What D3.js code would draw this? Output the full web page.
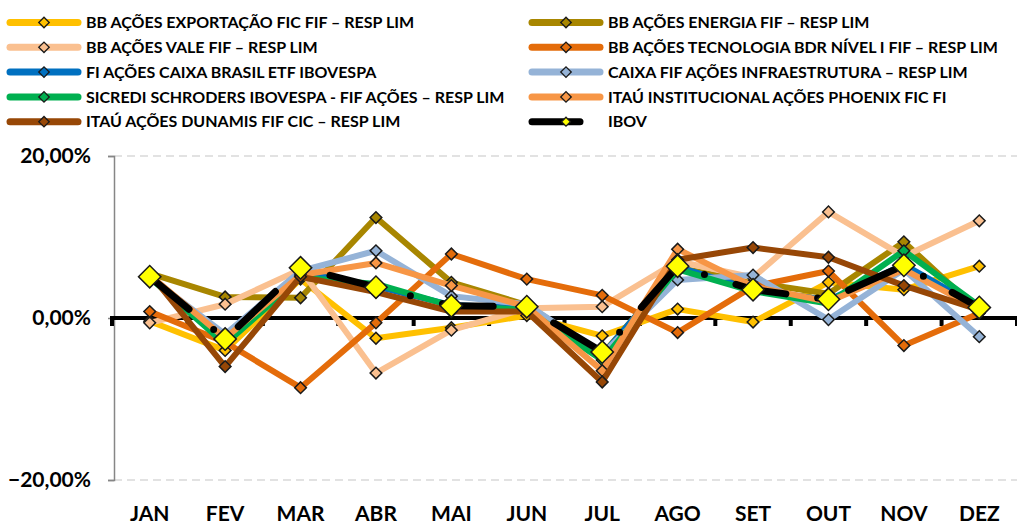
<!DOCTYPE html>
<html>
<head>
<meta charset="utf-8">
<script src="https://cdn.jsdelivr.net/npm/d3@7"></script>
<style>
  body { margin: 0; background: #fff; }
  text { font-family: Lato, "Open Sans", sans-serif; font-weight: bold; }
</style>
</head>
<body>
<svg id="chart"></svg>
<script>
// Months and monthly returns (%) per fund
const months = ["JAN", "FEV", "MAR", "ABR", "MAI", "JUN", "JUL", "AGO", "SET", "OUT", "NOV", "DEZ"];

const exportacao = [-0.4, -4.0, 4.8, -2.5, -1.2, 0.3, -2.2, 1.1, -0.5, 4.4, 3.5, 6.4];
const energia = [5.5, 2.6, 2.5, 12.4, 4.4, 1.6, -4.5, 6.2, 4.4, 3.0, 9.4, 0.8];
const vale = [-0.6, 1.7, 6.0, -6.8, -1.5, 1.2, 1.4, 7.0, 5.0, 13.1, 7.6, 12.0];
const tecnologia = [0.8, -3.0, -8.6, -0.6, 7.9, 4.8, 2.8, -1.8, 3.9, 5.8, -3.4, 0.6];
const caixaBrasil = [5.0, -2.6, 5.6, 3.9, 1.6, 1.2, -4.6, 6.3, 3.5, 2.2, 6.6, 1.3];
const caixaInfra = [5.0, -2.0, 5.8, 8.3, 2.7, 1.7, -4.5, 4.7, 5.3, -0.2, 6.0, -2.3];
const sicredi = [5.0, -3.2, 5.0, 4.2, 1.5, 1.0, -5.2, 6.0, 3.3, 1.8, 8.3, 1.5];
const phoenix = [5.3, -2.5, 5.3, 6.8, 4.0, 1.4, -6.5, 8.5, 3.9, 2.0, 6.0, 1.0];
const dunamis = [5.5, -6.0, 5.1, 3.2, 0.8, 0.8, -7.9, 7.2, 8.7, 7.5, 4.0, 1.0];
const ibov = [5.1, -2.6, 6.2, 3.8, 1.5, 1.4, -4.2, 6.4, 3.5, 2.3, 6.5, 1.3];

const yTicks = [-20, 0, 20];

// Series in legend order (row by row, two columns)
const series = [
  { name: "BB AÇÕES EXPORTAÇÃO FIC FIF – RESP LIM", color: "#FFC000", values: exportacao },
  { name: "BB AÇÕES ENERGIA FIF – RESP LIM", color: "#A88600", values: energia },
  { name: "BB AÇÕES VALE FIF – RESP LIM", color: "#FAC090", values: vale },
  { name: "BB AÇÕES TECNOLOGIA BDR NÍVEL I FIF – RESP LIM", color: "#E46C0A", values: tecnologia },
  { name: "FI AÇÕES CAIXA BRASIL ETF IBOVESPA", color: "#0070C0", values: caixaBrasil },
  { name: "CAIXA FIF AÇÕES INFRAESTRUTURA – RESP LIM", color: "#95B3D7", values: caixaInfra },
  { name: "SICREDI SCHRODERS IBOVESPA - FIF AÇÕES – RESP LIM", color: "#00B050", values: sicredi },
  { name: "ITAÚ INSTITUCIONAL AÇÕES PHOENIX FIC FI", color: "#F79646", values: phoenix },
  { name: "ITAÚ AÇÕES DUNAMIS FIF CIC – RESP LIM", color: "#974706", values: dunamis },
  { name: "IBOV", color: "#000000", marker: "#FFFF00", values: ibov, dashed: true }
];

const width = 1017;
const height = 524;

const svg = d3.select("#chart")
  .attr("width", width)
  .attr("height", height);

svg.append("rect")
  .attr("width", width)
  .attr("height", height)
  .attr("fill", "#ffffff");

// Scales
const x = d3.scaleBand()
  .domain(months)
  .range([112, 1017]);

const y = d3.scaleLinear()
  .domain([-20, 20])
  .range([480, 156]);

const diamond = (size) => d3.symbol().type(d3.symbolSquare).size(size)();

// Grid lines (dashed, except zero which is the category axis)
svg.append("g")
  .selectAll("line")
  .data(yTicks.filter(d => d !== 0))
  .enter()
  .append("line")
  .attr("x1", 114)
  .attr("x2", width)
  .attr("y1", d => y(d))
  .attr("y2", d => y(d))
  .attr("stroke", "#D9D9D9")
  .attr("stroke-width", 1.5)
  .attr("stroke-dasharray", "8 5");

// Value axis
const yAxis = svg.append("g")
  .attr("transform", "translate(114,0)")
  .call(d3.axisLeft(y)
    .tickValues(yTicks)
    .tickSize(6)
    .tickPadding(17)
    .tickFormat(d => d3.format(".2f")(d).replace(".", ",") + "%"));

yAxis.select(".domain").attr("stroke", "#868686").attr("stroke-width", 1.5);
yAxis.selectAll(".tick line").attr("stroke", "#868686").attr("stroke-width", 1.5);
yAxis.selectAll(".tick text")
  .attr("fill", "#000")
  .style("font-size", "21px");

// Category axis drawn on the zero line, ticks between categories
const boundaries = months.map(m => x(m)).concat([x.range()[1]]);
const zeroAxis = svg.append("g");

zeroAxis.selectAll("line.tick")
  .data(boundaries)
  .enter()
  .append("line")
  .attr("class", "tick")
  .attr("x1", d => d)
  .attr("x2", d => d)
  .attr("y1", y(0))
  .attr("y2", y(0) + 8)
  .attr("stroke", "#000")
  .attr("stroke-width", 4);

zeroAxis.append("line")
  .attr("x1", 110)
  .attr("x2", width)
  .attr("y1", y(0))
  .attr("y2", y(0))
  .attr("stroke", "#000")
  .attr("stroke-width", 4);

// Month labels at the bottom
const xAxis = svg.append("g")
  .attr("transform", "translate(0,500)")
  .call(d3.axisBottom(x).tickSize(0).tickPadding(6));

xAxis.select(".domain").remove();
xAxis.selectAll(".tick text")
  .attr("fill", "#000")
  .style("font-size", "21px");

// Lines and markers
const line = d3.line()
  .x((d, i) => x(months[i]) + x.bandwidth() / 2)
  .y(d => y(d));

series.forEach(s => {
  const g = svg.append("g");

  g.append("path")
    .datum(s.values)
    .attr("d", line)
    .attr("fill", "none")
    .attr("stroke", s.color)
    .attr("stroke-width", s.dashed ? 7 : 6)
    .attr("stroke-linejoin", "round")
    .attr("stroke-linecap", "round")
    .attr("stroke-dasharray", s.dashed ? "51 32 0 33" : null);

  g.selectAll("path.marker")
    .data(s.values)
    .enter()
    .append("path")
    .attr("class", "marker")
    .attr("d", diamond(s.dashed ? 250 : 68))
    .attr("transform", (d, i) =>
      `translate(${x(months[i]) + x.bandwidth() / 2},${y(d)}) rotate(45)`)
    .attr("fill", s.marker || s.color)
    .attr("stroke", "#1a1a1a")
    .attr("stroke-width", 1.5);
});

// Legend: two columns, five rows
const legend = svg.append("g");

series.forEach((s, i) => {
  const col = i % 2;
  const row = Math.floor(i / 2);
  const lx = col === 0 ? 8 : 530;
  const ly = 22.5 + row * 24.8;
  const item = legend.append("g").attr("transform", `translate(${lx},${ly})`);

  item.append("line")
    .attr("x1", 2)
    .attr("x2", 70)
    .attr("stroke", s.color)
    .attr("stroke-width", 7)
    .attr("stroke-linecap", "round")
    .attr("stroke-dasharray", s.dashed ? "48 40" : null);

  item.append("path")
    .attr("d", diamond(s.dashed ? 40 : 55))
    .attr("transform", "translate(36,0) rotate(45)")
    .attr("fill", s.marker || s.color)
    .attr("stroke", "#1a1a1a")
    .attr("stroke-width", 1.3);

  item.append("text")
    .attr("x", 78)
    .attr("y", 0)
    .attr("dy", "0.35em")
    .style("font-size", "16px")
    .text(s.name);
});
</script>
</body>
</html>
